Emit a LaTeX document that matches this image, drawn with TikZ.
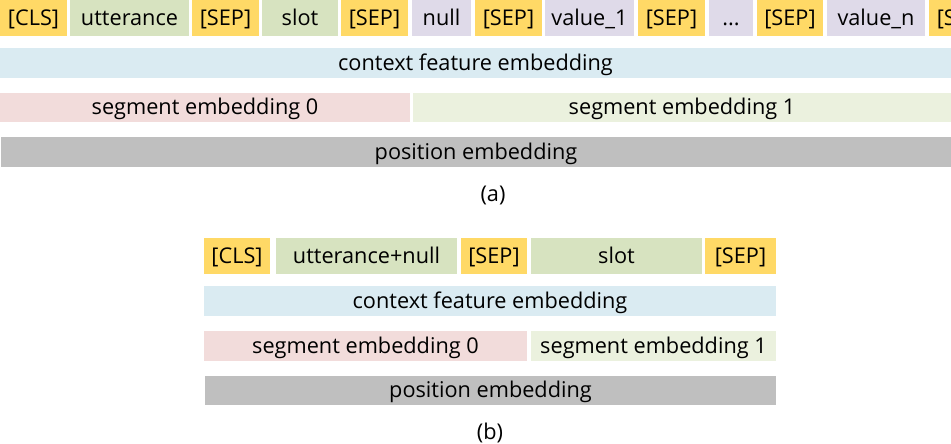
\documentclass[tikz,border=0pt]{standalone}
\usepackage{fontspec}
\setmainfont{Open Sans}

\definecolor{sepyel}{HTML}{FFD966}
\definecolor{uttgrn}{HTML}{D7E3C0}
\definecolor{valpur}{HTML}{DFDAE9}
\definecolor{ctxblu}{HTML}{DAEBF2}
\definecolor{segred}{HTML}{F2DCDB}
\definecolor{seggrn}{HTML}{EBF1DE}
\definecolor{posgry}{HTML}{BFBFBF}

\tikzset{
  blk/.style={inner sep=0pt,outer sep=0pt,text height=18pt,text depth=3.5pt,
    font=\fontsize{21.7}{25}\selectfont},
  sublabel/.style={font=\fontsize{21.7}{25}\selectfont}
}

% name, x1, x2, y1, y2, fill, text
\newcommand{\blk}[7]{%
  \node[blk,fill=#6,minimum width={(#3-#2)*1pt},minimum height={(#5-#4)*1pt}]
    (#1) at ({(#2+#3)/2},{(#4+#5)/2}) {#7};}

\begin{document}
\begin{tikzpicture}[x=1pt,y=-1pt]

\clip (0,0) rectangle (951,444);

% (a)
\blk{acls}{0}{67}{0}{36}{sepyel}{[CLS]}
\blk{autt}{70}{189}{0}{36}{uttgrn}{utterance}
\blk{asepa}{192}{259}{0}{36}{sepyel}{[SEP]}
\blk{aslot}{262}{338}{0}{36}{uttgrn}{slot}
\blk{asepb}{341}{408}{0}{36}{sepyel}{[SEP]}
\blk{anull}{412}{471}{0}{36}{valpur}{null}
\blk{asepc}{475}{542}{0}{36}{sepyel}{[SEP]}
\blk{avalo}{545}{634}{0}{36}{valpur}{value\_1}
\blk{asepd}{638}{705}{0}{36}{sepyel}{[SEP]}
\blk{adots}{709}{753}{0}{36}{valpur}{...}
\blk{asepe}{757}{823}{0}{36}{sepyel}{[SEP]}
\blk{avaln}{827}{925}{0}{36}{valpur}{value\_n}
\blk{asepf}{929}{996}{0}{36}{sepyel}{[SEP]}

\blk{actx}{0}{951}{48}{78}{ctxblu}{context feature embedding}
\blk{asega}{0}{410}{93}{122}{segred}{segment embedding 0}
\blk{asegb}{413}{951}{93}{122}{seggrn}{segment embedding 1}
\blk{apos}{1}{951}{137}{167}{posgry}{position embedding}

\node[sublabel] (alab) at (493,195) {(a)};

% (b)
\blk{bcls}{204}{270}{238}{274}{sepyel}{[CLS]}
\blk{butt}{276}{457}{238}{274}{uttgrn}{utterance+null}
\blk{bsepa}{461}{527}{238}{274}{sepyel}{[SEP]}
\blk{bslot}{531}{702}{238}{274}{uttgrn}{slot}
\blk{bsepb}{705}{776}{238}{274}{sepyel}{[SEP]}

\blk{bctx}{204}{776}{286}{316}{ctxblu}{context feature embedding}
\blk{bsega}{204}{527}{331}{361}{segred}{segment embedding 0}
\blk{bsegb}{531}{776}{331}{361}{seggrn}{segment embedding 1}
\blk{bpos}{205}{776}{376}{405}{posgry}{position embedding}

\node[sublabel] (blab) at (490,433) {(b)};

\end{tikzpicture}
\end{document}
